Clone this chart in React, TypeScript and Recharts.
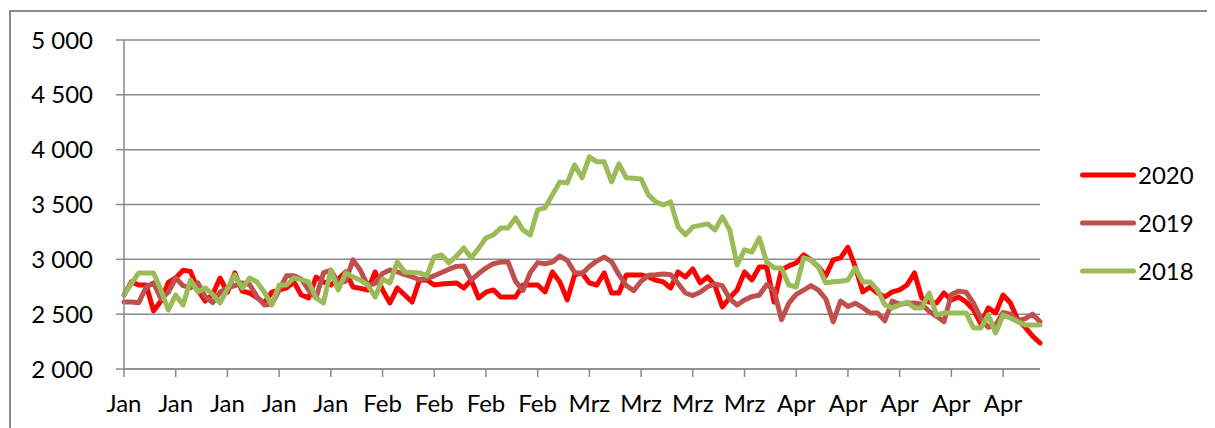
import React from 'react';
import { LineChart, Line, XAxis, YAxis, CartesianGrid, Legend } from 'recharts';

const monthNames = ['Jan', 'Feb', 'Mrz', 'Apr', 'Mai'];
const monthDays = [31, 29, 31, 30, 4];

const series2020 = [
  2675, 2794, 2766, 2766, 2530, 2620, 2790, 2830, 2900, 2890,
  2720, 2620, 2680, 2830, 2700, 2876, 2710, 2693, 2650, 2602,
  2700, 2720, 2740, 2794, 2675, 2648, 2839, 2794, 2766, 2820,
  2885, 2748, 2735, 2721, 2885, 2721, 2602, 2739, 2675, 2611,
  2812, 2812, 2766, 2775, 2780, 2785, 2739, 2812, 2648, 2700,
  2721, 2657, 2657, 2657, 2766, 2766, 2766, 2703, 2885, 2794,
  2630, 2858, 2876, 2785, 2766, 2876, 2693, 2693, 2858, 2858,
  2858, 2840, 2810, 2794, 2739, 2885, 2839, 2912, 2785, 2839,
  2760, 2566, 2650, 2721, 2885, 2812, 2931, 2931, 2610, 2903,
  2940, 2967, 3040, 2995, 2931, 2850, 2995, 3013, 3110, 2931,
  2703, 2748, 2693, 2657, 2703, 2721, 2766, 2876, 2648, 2611,
  2602, 2693, 2630, 2657, 2611, 2540, 2410, 2557, 2511, 2675,
  2602, 2447, 2380, 2300, 2237,
];

const series2019 = [
  2611, 2611, 2605, 2748, 2785, 2640, 2700, 2830, 2760, 2740,
  2785, 2660, 2605, 2700, 2739, 2760, 2785, 2770, 2660, 2584,
  2590, 2720, 2850, 2850, 2820, 2720, 2650, 2876, 2903, 2785,
  2800, 2995, 2900, 2760, 2780, 2870, 2903, 2885, 2860, 2840,
  2815, 2825, 2850, 2880, 2910, 2935, 2940, 2810, 2870, 2920,
  2960, 2975, 2975, 2800, 2715, 2880, 2970, 2960, 2975, 3030,
  2990, 2880, 2870, 2935, 2985, 3020, 2980, 2860, 2760, 2715,
  2800, 2855, 2860, 2867, 2860, 2780, 2693, 2670, 2700, 2750,
  2775, 2760, 2640, 2584, 2630, 2660, 2673, 2770, 2720, 2450,
  2600, 2680, 2720, 2760, 2720, 2640, 2430, 2620, 2570, 2600,
  2560, 2510, 2510, 2440, 2620, 2590, 2600, 2602, 2590, 2525,
  2480, 2430, 2680, 2710, 2700, 2600, 2460, 2380, 2400, 2515,
  2500, 2440, 2460, 2500, 2430,
];

const series2018 = [
  2675, 2780, 2876, 2876, 2876, 2720, 2538, 2675, 2584, 2812,
  2703, 2739, 2680, 2602, 2730, 2858, 2739, 2830, 2794, 2700,
  2584, 2766, 2766, 2830, 2815, 2794, 2648, 2602, 2903, 2721,
  2876, 2839, 2810, 2766, 2657, 2820, 2785, 2976, 2885, 2880,
  2876, 2850, 3022, 3040, 2967, 3030, 3104, 3013, 3100, 3195,
  3223, 3286, 3286, 3378, 3268, 3223, 3451, 3469, 3590, 3706,
  3697, 3861, 3743, 3934, 3889, 3889, 3706, 3870, 3743, 3740,
  3733, 3588, 3524, 3496, 3524, 3296, 3223, 3296, 3310, 3323,
  3268, 3387, 3268, 2949, 3086, 3067, 3195, 2976, 2922, 2922,
  2766, 2748, 3013, 2995, 2931, 2785, 2795, 2800, 2812, 2922,
  2794, 2794, 2721, 2584, 2557, 2585, 2611, 2557, 2557, 2693,
  2493, 2511, 2511, 2511, 2511, 2374, 2374, 2493, 2328, 2493,
  2465, 2430, 2401, 2401, 2401,
];

const yTicks = [2000, 2500, 3000, 3500, 4000, 4500, 5000];
const seriesKeys = ['s2020', 's2019', 's2018'];
const seriesNames = ['2020', '2019', '2018'];
const seriesColors = ['#FF0000', '#C0504D', '#9BBB59'];

const dayLabels: string[] = monthNames.flatMap((m, k) => Array(monthDays[k]).fill(m));

const data = dayLabels.map((label, i) => ({
  day: i,
  label,
  s2020: series2020[i],
  s2019: series2019[i],
  s2018: series2018[i],
}));

const FONT = 'Lato, "Open Sans", sans-serif';
const GRID = '#8a8a8a';

const formatThousands = (v: number) => {
  const s = String(v);
  return s.length > 3 ? s.slice(0, s.length - 3) + ' ' + s.slice(-3) : s;
};

const LegendContent = () => (
  <div style={{ fontFamily: FONT, fontSize: 24, color: '#000' }}>
    {seriesNames.map((name, k) => (
      <div key={name} style={{ display: 'flex', alignItems: 'center', height: 48, lineHeight: '48px' }}>
        <svg width={56} height={48} style={{ display: 'block' }}>
          <line x1={2.5} y1={24} x2={53.5} y2={24} stroke={seriesColors[k]} strokeWidth={5} strokeLinecap="round" />
        </svg>
        <span style={{ marginLeft: 2 }}>{name}</span>
      </div>
    ))}
  </div>
);

export default function App() {
  return (
    <div
      style={{
        position: 'relative',
        left: 1,
        top: 2,
        width: 1230,
        height: 430,
        border: `2px solid ${GRID}`,
        background: '#fff',
      }}
    >
      <LineChart
        width={1230}
        height={430}
        data={data}
        margin={{ top: 28, right: 201, bottom: 23, left: 0 }}
      >
        <CartesianGrid horizontal vertical={false} stroke={GRID} strokeWidth={1.5} />
        <XAxis
          dataKey="day"
          type="category"
          scale="point"
          interval={6}
          height={50}
          tickFormatter={(v: number) => dayLabels[v]}
          tick={{ fontSize: 24, fontFamily: FONT, fill: '#000' }}
          tickSize={8}
          tickMargin={18}
          axisLine={{ stroke: GRID, strokeWidth: 1.5 }}
          tickLine={{ stroke: GRID, strokeWidth: 1.5 }}
          padding={{ left: 0, right: 0 }}
        />
        <YAxis
          domain={[2000, 5000]}
          ticks={yTicks}
          width={113}
          tickFormatter={formatThousands}
          tick={{ fontSize: 24, fontFamily: FONT, fill: '#000' }}
          tickSize={8}
          tickMargin={23}
          axisLine={{ stroke: GRID, strokeWidth: 1.5 }}
          tickLine={{ stroke: GRID, strokeWidth: 1.5 }}
          interval={0}
        />
        <Legend
          layout="vertical"
          align="center"
          verticalAlign="middle"
          content={() => <LegendContent />}
          wrapperStyle={{ position: 'absolute', left: 1069, top: 139, width: 150, height: 144 }}
        />
        {seriesKeys.map((key, k) => (
          <Line
            key={key}
            type="linear"
            dataKey={key}
            name={seriesNames[k]}
            stroke={seriesColors[k]}
            strokeWidth={5}
            strokeLinejoin="round"
            strokeLinecap="round"
            dot={false}
            activeDot={false}
            isAnimationActive={false}
          />
        ))}
      </LineChart>
    </div>
  );
}
